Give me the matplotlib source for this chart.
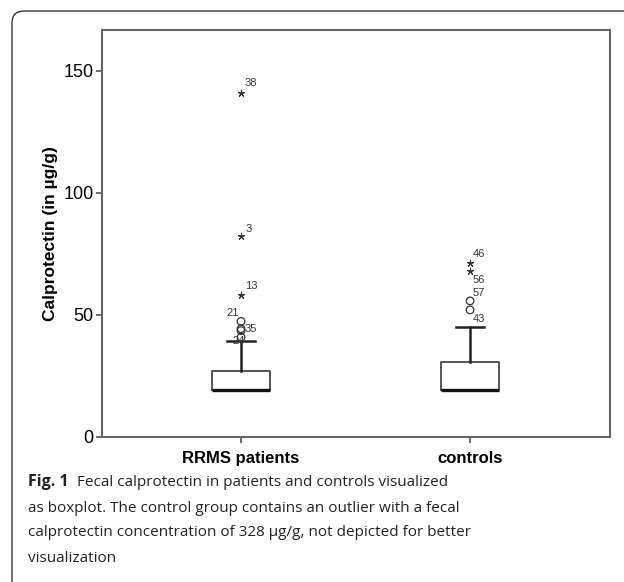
import matplotlib
matplotlib.use("Agg")
import matplotlib.pyplot as plt
from matplotlib.path import Path
from matplotlib.patches import PathPatch

# ---- data ----
groups = ["RRMS patients", "controls"]
q1 = [19.0, 19.2]
median = [19.0, 19.2]
q3 = [27.1, 30.6]
whis_lo = [19.0, 19.2]
whis_hi = [39.3, 45.1]

# mild outliers (circles)
circ_group = [0, 0, 0, 0, 1, 1]
circ_vals = [47.3, 44.3, 43.5, 40.8, 55.7, 52.0]
# extreme outliers (stars)
star_group = [0, 0, 0, 1, 1]
star_vals = [141.1, 82.3, 58.1, 71.4, 68.1]

# case labels: (group, value, label)
lab_group = [0, 0, 0, 0, 0, 0, 1, 1, 1, 1]
lab_vals = [141.1, 82.3, 58.1, 47.3, 44.3, 40.8, 71.4, 68.1, 55.7, 52.0]
lab_text = ["38", "3", "13", "21", "35", "24", "46", "56", "57", "43"]
lab_off = [(4, 10), (5, 7), (4, 9), (-15, 8), (4, 0), (-9, -4), (3, 9), (3, -9), (3, 8), (3, -9)]

yticks = [0, 50, 100, 150]
ylabel = "Calprotectin (in µg/g)"
caption_bold = "Fig. 1"
caption_lines = [
    "Fecal calprotectin in patients and controls visualized",
    "as boxplot. The control group contains an outlier with a fecal",
    "calprotectin concentration of 328 µg/g, not depicted for better",
    "visualization",
]

W, H = 624, 582
fig = plt.figure(figsize=(W / 100, H / 100), dpi=100)
ax = fig.add_axes([102 / W, 1 - 436.7 / H, (610 - 102) / W, (436.7 - 30) / H])

positions = [1, 2]
stats = []
for i in range(2):
    stats.append(dict(med=median[i], q1=q1[i], q3=q3[i], whislo=whis_lo[i],
                      whishi=whis_hi[i], fliers=[]))

edge = "#555555"
ax.bxp(stats, positions=positions, widths=0.251, showfliers=False,
       boxprops=dict(color=edge, linewidth=1.4),
       whiskerprops=dict(color="#222222", linewidth=1.8),
       capprops=dict(color="#222222", linewidth=1.8),
       medianprops=dict(color="#111111", linewidth=2.4),
       capwidths=0.122)

ax.scatter([positions[g] for g in circ_group], circ_vals, s=30, facecolors="none",
           edgecolors="#333333", linewidths=0.9, zorder=3)
ax.scatter([positions[g] for g in star_group], star_vals, s=22, marker=(5, 2, 0),
           color="#333333", linewidths=0.8, zorder=3)

for g, v, t, off in zip(lab_group, lab_vals, lab_text, lab_off):
    ax.annotate(t, (positions[g], v), xytext=off, textcoords="offset pixels",
                ha="left", va="center", fontsize=8, color="#333333",
                family="Liberation Sans")

ax.set_xlim(0.393, 2.611)
ax.set_ylim(0, 166.8)
ax.set_yticks(yticks)
ax.set_yticklabels([str(t) for t in yticks], family="Liberation Sans", fontsize=13)
ax.set_xticks(positions)
ax.set_xticklabels(groups, family="Liberation Sans", fontsize=12, fontweight="bold")
ax.tick_params(axis="both", direction="out", length=4, width=1.2, color="#555555", pad=2)
ax.tick_params(axis="x", pad=6)
ax.set_ylabel(ylabel, family="Liberation Sans", fontsize=12.5, fontweight="bold", labelpad=4)
for s in ax.spines.values():
    s.set_color("#666666")
    s.set_linewidth(1.5)

# outer panel frame with rounded top-left corner
r = 12
verts = [(12, H), (12, 11 + r), (12, 11), (12 + r, 11), (W, 11)]
verts = [(x / W, 1 - y / H) for x, y in verts]
codes = [Path.MOVETO, Path.LINETO, Path.CURVE3, Path.CURVE3, Path.LINETO]
fig.add_artist(PathPatch(Path(verts, codes), transform=fig.transFigure,
                         fill=False, edgecolor="#222222", linewidth=0.9))

# caption
cap_font = "Open Sans"
x0 = 28 / W
ys = [482, 508, 533, 558]
fig.canvas.draw()
renderer = fig.canvas.get_renderer()
tb = fig.text(x0, 1 - ys[0] / H, caption_bold, family=cap_font, fontweight="bold",
              fontsize=11.5, va="center", ha="left", color="#222222")
bb = tb.get_window_extent(renderer)
fig.text((bb.x1 + 8) / W, 1 - ys[0] / H, caption_lines[0], family=cap_font,
         fontsize=11, va="center", ha="left", color="#222222")
for line, y in zip(caption_lines[1:], ys[1:]):
    fig.text(x0, 1 - y / H, line, family=cap_font, fontsize=11, va="center",
             ha="left", color="#222222")

fig.savefig("out.png", dpi=100)
